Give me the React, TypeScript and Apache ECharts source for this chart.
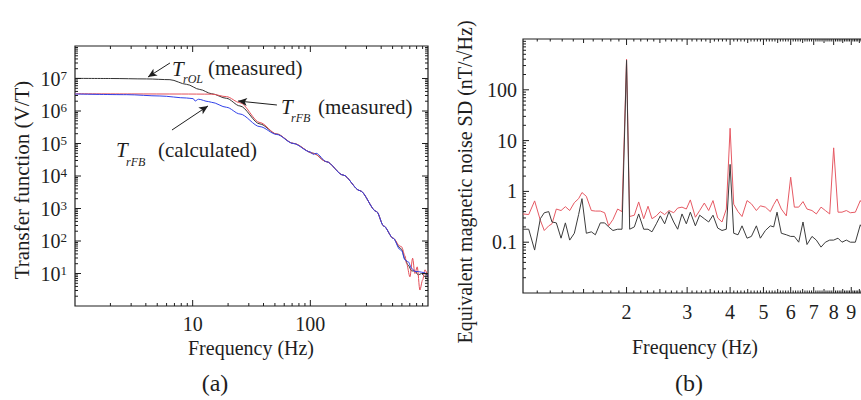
import React, { useEffect, useRef } from "react";
import * as echarts from "echarts";

// ---------- Panel (a): transfer functions ----------
const A_OL_FREQ = [1, 2, 4.06, 6.41, 8.89, 11.5, 14.5, 19.4, 25.2, 37.3, 51.7, 71.6, 106, 137, 190, 264, 366, 420, 507, 577, 597, 637, 679, 726, 774, 826, 880, 942, 1000];
const A_OL_VAL = [1.01e7, 1.0e7, 9.7e6, 9.2e6, 6.6e6, 4.6e6, 3.4e6, 2.45e6, 1.43e6, 4.0e5, 1.96e5, 1.01e5, 5.0e4, 2.76e4, 1.07e4, 3.54e3, 800, 290, 121, 62, 55, 28, 18, 12, 12, 9, 10, 8, 6];

const A_FBM_FREQ = [1, 3, 8, 14.5, 19.4, 25.2, 37.3, 51.7, 71.6, 106, 137, 190, 264, 366, 420, 507, 577, 597, 637, 658, 702, 740, 774, 810, 853, 900, 942, 1000];
const A_FBM_VAL = [3.4e6, 3.35e6, 3.33e6, 3.3e6, 2.76e6, 1.8e6, 4.4e5, 1.96e5, 1.01e5, 5.0e4, 2.76e4, 1.07e4, 3.54e3, 800, 290, 121, 70, 66, 35, 20, 7.9, 29.5, 10, 16, 3.1, 6.3, 13, 8];

const A_FBC_FREQ = [1, 2.75, 5.27, 8.89, 10.1, 10.5, 11.2, 13.6, 14.5, 19.4, 25.2, 37.3, 51.7, 71.6, 100, 106, 112, 137, 190, 264, 366, 420, 507, 577, 597, 637, 679, 726, 774, 826, 880, 942, 1000];
const A_FBC_VAL = [3.33e6, 3.18e6, 2.9e6, 2.51e6, 2.4e6, 2.03e6, 2.3e6, 1.95e6, 1.85e6, 1.3e6, 8.1e5, 3.3e5, 1.9e5, 1.0e5, 5.5e4, 4.6e4, 5.0e4, 2.76e4, 1.07e4, 3.54e3, 800, 290, 121, 55, 50, 26, 23, 14.5, 11.5, 11.5, 11, 10.5, 8];

// arrows of the annotations: [fromFreq, fromValue, toFreq, toValue]
const A_ARROWS = [
  [6.41, 3.0e7, 4.17, 1.11e7],
  [52, 1.53e6, 24.3, 2.03e6],
  [6.67, 2.6e5, 13.5, 1.43e6],
];

const A_X_LABELS = [10, 100];
const A_Y_LABEL_EXPONENTS = [1, 2, 3, 4, 5, 6, 7];

// ---------- Panel (b): noise spectral density ----------
const B_FREQ = [
  1.0, 1.039, 1.081, 1.123, 1.153, 1.188, 1.214, 1.25, 1.29, 1.328,
  1.367, 1.41, 1.451, 1.484, 1.528, 1.58, 1.623, 1.678, 1.727, 1.774,
  1.826, 1.884, 1.94, 2.0, 2.042, 2.107, 2.169, 2.243, 2.309, 2.371,
  2.441, 2.507, 2.581, 2.657, 2.742, 2.816, 2.899, 2.984, 3.065, 3.17,
  3.263, 3.366, 3.465, 3.567, 3.681, 3.789, 3.9, 4.0, 4.097, 4.217,
  4.332, 4.48, 4.612, 4.769, 4.898, 5.065, 5.236, 5.355, 5.476, 5.636,
  5.828, 6.0, 6.15, 6.331, 6.516, 6.692, 6.92, 7.124, 7.351, 7.568,
  7.79, 8.0, 8.236, 8.459, 8.708, 8.946, 9.25, 9.563, 9.89,
];
const B_RED = [
  0.36, 0.35, 0.65, 0.27, 0.17, 0.21, 0.23, 0.45, 0.42, 0.5,
  0.42, 0.6, 0.72, 0.95, 0.8, 0.42, 0.41, 0.41, 0.38, 0.21,
  0.28, 0.45, 0.4, 400, 0.32, 0.34, 0.62, 0.29, 0.51, 0.29,
  0.33, 0.4, 0.35, 0.42, 0.38, 0.47, 0.49, 0.45, 0.68, 0.31,
  0.42, 0.59, 0.42, 0.66, 0.3, 0.25, 0.45, 17.5, 0.56, 0.4,
  0.32, 0.66, 0.57, 0.42, 0.52, 0.49, 0.4, 0.55, 0.71, 0.45,
  0.33, 1.9, 0.49, 0.49, 0.63, 0.45, 0.42, 0.36, 0.49, 0.42,
  0.36, 7.2, 0.39, 0.39, 0.42, 0.38, 0.39, 0.66, 0.45,
];
const B_BLACK = [
  0.18, 0.18, 0.07, 0.29, 0.38, 0.4, 0.25, 0.24, 0.12, 0.24,
  0.11, 0.15, 0.35, 0.72, 0.15, 0.16, 0.14, 0.24, 0.24, 0.2,
  0.17, 0.18, 0.18, 380, 0.18, 0.2, 0.36, 0.18, 0.18, 0.16,
  0.23, 0.33, 0.23, 0.4, 0.25, 0.18, 0.36, 0.23, 0.39, 0.21,
  0.34, 0.29, 0.25, 0.34, 0.19, 0.17, 0.18, 3.4, 0.15, 0.14,
  0.21, 0.12, 0.13, 0.21, 0.12, 0.17, 0.21, 0.2, 0.39, 0.15,
  0.14, 0.13, 0.13, 0.1, 0.25, 0.09, 0.13, 0.11, 0.08, 0.1,
  0.11, 0.11, 0.12, 0.1, 0.11, 0.1, 0.1, 0.22, 0.15,
];
const B_X_LABELS = [2, 3, 4, 5, 6, 7, 8, 9];
const B_Y_LABELS = ["0.1", "1", "10", "100"];

const FONT = "Liberation Serif";
const INK = "#1e1e1e";

const pairs = (f: number[], v: number[]) => f.map((x, i) => [x, v[i]]);
const r4 = (v: number) => Number(v.toPrecision(4));

function decadeTicks(minExp: number, maxExp: number) {
  const major: number[] = [];
  const minor: number[] = [];
  for (let e = minExp; e <= maxExp; e++) {
    if (e > minExp && e < maxExp) major.push(r4(Math.pow(10, e)));
    if (e < maxExp) for (let m = 2; m <= 9; m++) minor.push(r4(m * Math.pow(10, e)));
  }
  return { major, minor };
}

const txt = (x: number, y: number, text: string, size: number, extra: any = {}) => ({
  type: "text",
  x,
  y,
  rotation: extra.rotation || 0,
  silent: true,
  z: 20,
  style: {
    text,
    fontSize: size,
    fontFamily: FONT,
    fontStyle: extra.italic ? "italic" : "normal",
    fill: INK,
    align: extra.align || "center",
    verticalAlign: extra.vAlign || "middle",
  },
});

export default function App() {
  const ref = useRef<HTMLDivElement>(null);

  useEffect(() => {
    if (!ref.current) return;
    const chart = echarts.init(ref.current, undefined, { renderer: "svg" });

    const labelBase = { fontSize: 20, fontFamily: FONT, color: INK };

    const option: any = {
      animation: false,
      backgroundColor: "#ffffff",
      textStyle: { fontFamily: FONT },
      grid: [
        { left: 75, top: 46, width: 353, height: 260, show: true, borderColor: INK, borderWidth: 1.2, backgroundColor: "transparent" },
        { left: 523, top: 39, width: 344, height: 254, show: true, borderColor: INK, borderWidth: 1.2, backgroundColor: "transparent" },
      ],
      xAxis: [
        {
          gridIndex: 0, type: "log", logBase: 10, min: 1, max: 1000,
          axisLine: { show: false }, axisTick: { show: false }, splitLine: { show: false },
          axisLabel: {
            ...labelBase, margin: 8,
            formatter: (v: number) => (A_X_LABELS.some((l) => Math.abs(l - v) < 1e-6 * l) ? String(Math.round(v)) : ""),
          },
        },
        {
          gridIndex: 1, type: "log", logBase: 10, min: 1, max: 10,
          axisLine: { show: false }, axisTick: { show: false }, splitLine: { show: false },
          axisLabel: { show: false },
        },
      ],
      yAxis: [
        {
          gridIndex: 0, type: "log", logBase: 10, min: 1, max: 1e8,
          axisLine: { show: false }, axisTick: { show: false }, splitLine: { show: false },
          axisLabel: {
            ...labelBase, margin: 8,
            formatter: (v: number) => {
              const e = Math.round(Math.log10(v));
              return A_Y_LABEL_EXPONENTS.includes(e) ? `10{s|${e}}` : "";
            },
            rich: { s: { fontSize: 13, fontFamily: FONT, color: INK, verticalAlign: "top", lineHeight: 13 } },
          },
        },
        {
          gridIndex: 1, type: "log", logBase: 10, min: 0.01, max: 1000,
          axisLine: { show: false }, axisTick: { show: false }, splitLine: { show: false },
          axisLabel: {
            ...labelBase, margin: 6,
            formatter: (v: number) => {
              const e = Math.round(Math.log10(v));
              return e >= -1 && e <= 2 ? B_Y_LABELS[e + 1] : "";
            },
          },
        },
      ],
      series: [
        {
          type: "line", xAxisIndex: 0, yAxisIndex: 0, data: pairs(A_OL_FREQ, A_OL_VAL),
          showSymbol: false, symbol: "none", smooth: 0.3, smoothMonotone: "x",
          lineStyle: { color: "#333333", width: 1 },
          markLine: {
            silent: true, symbol: ["none", "arrow"], symbolSize: [6, 9],
            lineStyle: { color: INK, width: 1, type: "solid" }, label: { show: false },
            data: A_ARROWS.map((a) => [{ coord: [a[0], a[1]] }, { coord: [a[2], a[3]] }]),
          },
        },
        {
          type: "line", xAxisIndex: 0, yAxisIndex: 0, data: pairs(A_FBM_FREQ, A_FBM_VAL),
          showSymbol: false, symbol: "none", smooth: 0.3, smoothMonotone: "x",
          lineStyle: { color: "#e4505a", width: 1 },
        },
        {
          type: "line", xAxisIndex: 0, yAxisIndex: 0, data: pairs(A_FBC_FREQ, A_FBC_VAL),
          showSymbol: false, symbol: "none", smooth: 0.3, smoothMonotone: "x",
          lineStyle: { color: "#3040e8", width: 1 },
        },
        {
          type: "line", xAxisIndex: 1, yAxisIndex: 1, data: pairs(B_FREQ, B_RED),
          showSymbol: false, symbol: "none",
          lineStyle: { color: "#e65a64", width: 1 },
        },
        {
          type: "line", xAxisIndex: 1, yAxisIndex: 1, data: pairs(B_FREQ, B_BLACK),
          showSymbol: false, symbol: "none",
          lineStyle: { color: "#3c3c3c", width: 1 },
        },
      ],
    };

    chart.setOption(option);

    // ---- ticks (inward, on all sides) and the extra labels, placed through the axes' scales ----
    const g: any[] = [];
    const toPx = (grid: number, x: number, y: number) =>
      chart.convertToPixel({ gridIndex: grid } as any, [x, y]) as number[];
    const line = (x1: number, y1: number, x2: number, y2: number) => ({
      type: "line", silent: true, z: 15,
      shape: { x1, y1, x2, y2 },
      style: { stroke: INK, lineWidth: 1 },
    });
    const xTick = (grid: number, v: number, yMin: number, yMax: number, len: number) => {
      const b = toPx(grid, v, yMin);
      const t = toPx(grid, v, yMax);
      g.push(line(b[0], b[1], b[0], b[1] - len));
      g.push(line(t[0], t[1], t[0], t[1] + len));
    };
    const yTick = (grid: number, v: number, xMin: number, xMax: number, len: number) => {
      const l = toPx(grid, xMin, v);
      const r = toPx(grid, xMax, v);
      g.push(line(l[0], l[1], l[0] + len, l[1]));
      g.push(line(r[0], r[1], r[0] - len, r[1]));
    };

    // panel (a)
    const ax = decadeTicks(0, 3);
    ax.major.forEach((v) => xTick(0, v, 1, 1e8, 6));
    ax.minor.forEach((v) => xTick(0, v, 1, 1e8, 3));
    const ay = decadeTicks(0, 8);
    ay.major.forEach((v) => yTick(0, v, 1, 1000, 6));
    ay.minor.forEach((v) => yTick(0, v, 1, 1000, 3));

    // panel (b)
    for (let i = 11; i < 100; i++) xTick(1, i / 10, 0.01, 1000, i % 10 === 0 ? 6 : i % 5 === 0 ? 4 : 2.5);
    const by = decadeTicks(-2, 3);
    by.major.forEach((v) => yTick(1, v, 1, 10, 6));
    by.minor.forEach((v) => yTick(1, v, 1, 10, 3));
    B_X_LABELS.forEach((v) => {
      const p = toPx(1, v, 0.01);
      g.push(txt(p[0], p[1] + 9, String(v), 20, { vAlign: "top" }));
    });

    // titles and annotations
    g.push(
      txt(22, 180, "Transfer function (V/T)", 21, { rotation: Math.PI / 2 }),
      txt(251, 348, "Frequency (Hz)", 20),
      txt(215, 383, "(a)", 24),
      txt(465, 182, "Equivalent magnetic noise SD (nT/\u221AHz)", 20, { rotation: Math.PI / 2 }),
      txt(695, 347, "Frequency (Hz)", 20),
      txt(689, 383, "(b)", 24),
      txt(172, 69, "T", 21, { italic: true, align: "left" }),
      txt(183, 79, "rOL", 12, { italic: true, align: "left" }),
      txt(208, 68, "(measured)", 21, { align: "left" }),
      txt(281, 107, "T", 21, { italic: true, align: "left" }),
      txt(291, 118, "rFB", 12, { italic: true, align: "left" }),
      txt(318, 107, "(measured)", 21, { align: "left" }),
      txt(116, 150, "T", 21, { italic: true, align: "left" }),
      txt(126, 162, "rFB", 12, { italic: true, align: "left" }),
      txt(158, 150, "(calculated)", 21, { align: "left" })
    );

    chart.setOption({ graphic: g });
    return () => chart.dispose();
  }, []);

  return (
    <div
      ref={ref}
      style={{ position: "fixed", left: 0, top: 0, width: 880, height: 400, background: "#ffffff" }}
    />
  );
}
